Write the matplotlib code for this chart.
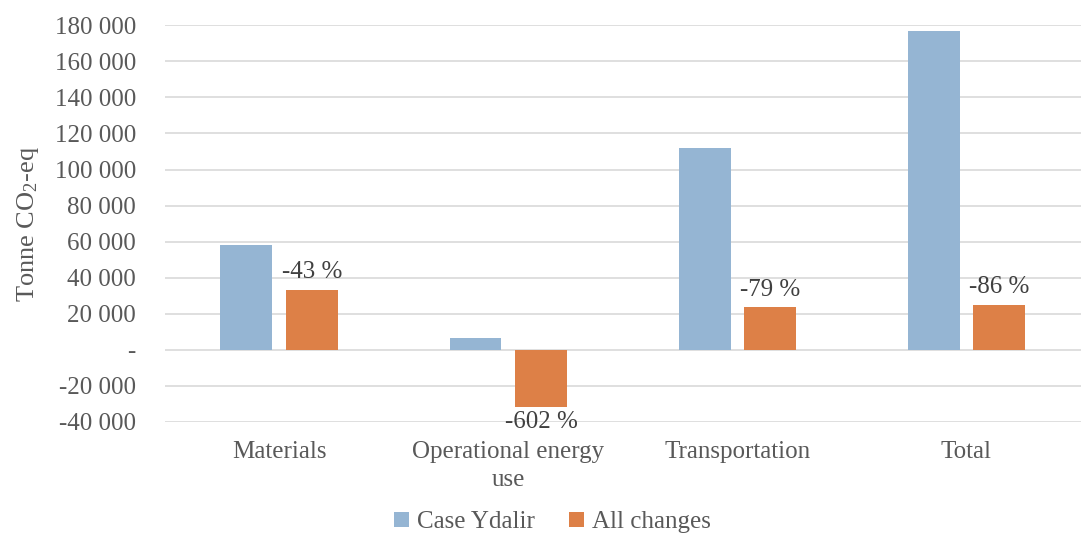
import matplotlib.pyplot as plt
import numpy as np
from matplotlib.ticker import FuncFormatter, MultipleLocator

plt.rcParams["font.family"] = ["Liberation Serif", "DejaVu Serif"]
plt.rcParams["mathtext.fontset"] = "custom"
plt.rcParams["mathtext.rm"] = "Liberation Serif"
plt.rcParams["mathtext.it"] = "Liberation Serif:italic"

categories = ["Materials", "Operational energy\nuse", "Transportation", "Total"]
case_ydalir = [58000, 6300, 112000, 177000]
all_changes = [33000, -31600, 23500, 25000]
change_labels = ["-43 %", "-602 %", "-79 %", "-86 %"]

BLUE = "#95b5d3"
ORANGE = "#dd8047"
TEXT = "#595959"
GRID = "#d9d9d9"
FS = 18


def excel_fmt(value, _pos):
    if abs(value) < 1e-9:
        return "-"
    return f"{value:,.0f}".replace(",", " ")


fig = plt.figure(figsize=(10.81, 5.33), dpi=100)
ax = fig.add_axes([0.1526, 0.2083, 0.8474, 0.7442])

x = np.arange(len(categories))
width = 0.227
offset = 0.144
ax.bar(x - offset, case_ydalir, width, color=BLUE, label="Case Ydalir", zorder=2)
bars = ax.bar(x + offset, all_changes, width, color=ORANGE, label="All changes", zorder=2)

for rect, text in zip(bars, change_labels):
    h = rect.get_height()
    cx = rect.get_x() + rect.get_width() / 2
    if h >= 0:
        ax.annotate(text, (cx, h), xytext=(0, 5), textcoords="offset points",
                    ha="center", va="bottom", fontsize=FS, color="#404040")
    else:
        ax.annotate(text, (cx, h), xytext=(0, -3), textcoords="offset points",
                    ha="center", va="top", fontsize=FS, color="#404040")

ax.set_xlim(-0.5, len(categories) - 0.5)
ax.set_ylim(-40000, 180000)
ax.yaxis.set_major_locator(MultipleLocator(20000))
ax.yaxis.set_major_formatter(FuncFormatter(excel_fmt))
ax.grid(axis="y", color=GRID, linewidth=1.2, zorder=0)
ax.set_axisbelow(True)
for side in ["top", "right", "left", "bottom"]:
    ax.spines[side].set_visible(False)

ax.set_xticks(x)
ax.set_xticklabels(categories, linespacing=1.35)
ax.tick_params(axis="y", length=0, pad=21, labelsize=FS, labelcolor=TEXT)
ax.tick_params(axis="x", length=0, pad=14, labelsize=FS, labelcolor=TEXT)

ax.set_ylabel("Tonne CO$_2$-eq", fontsize=FS + 1, color=TEXT, labelpad=10)

fig.legend(loc="center", bbox_to_anchor=(0.511, 0.02), ncol=2, frameon=False,
           fontsize=FS, labelcolor=TEXT, handlelength=0.6, handleheight=0.6,
           handletextpad=0.3, columnspacing=1.4)

fig.savefig("out.png", dpi=100)
